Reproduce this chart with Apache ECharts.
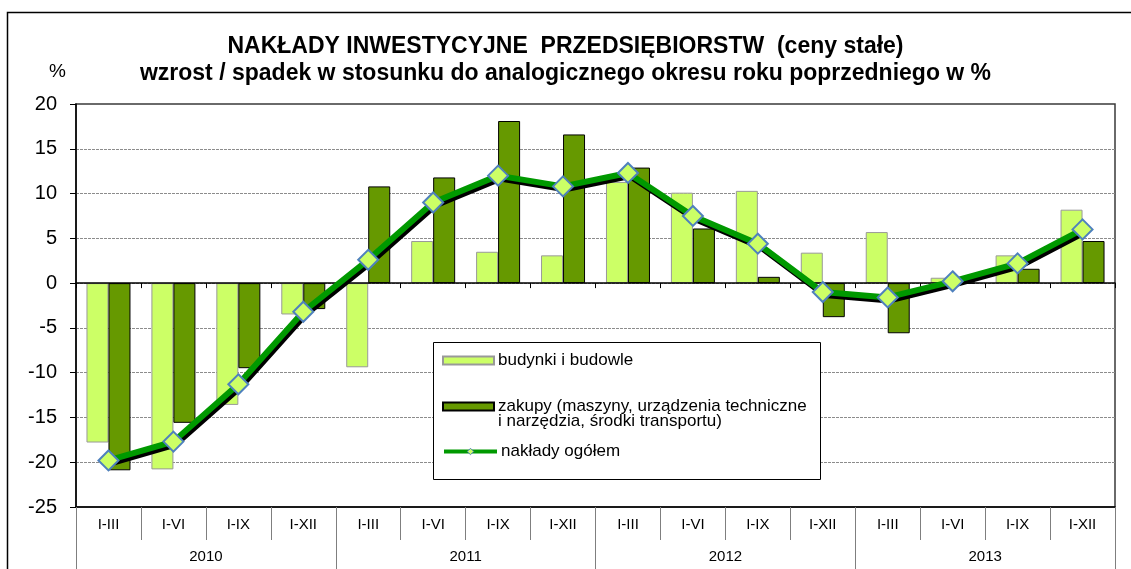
<!DOCTYPE html>
<html>
<head>
<meta charset="utf-8">
<script src="https://cdn.jsdelivr.net/npm/echarts@6/dist/echarts.min.js"></script>
<style>
  html, body { margin: 0; padding: 0; background: #fff; }
  #chart { width: 1131px; height: 569px; }
</style>
</head>
<body>
<div id="chart"></div>
<script>
// Periods (cumulative quarters) and years
const quarters = ['I-III', 'I-VI', 'I-IX', 'I-XII', 'I-III', 'I-VI', 'I-IX', 'I-XII',
                  'I-III', 'I-VI', 'I-IX', 'I-XII', 'I-III', 'I-VI', 'I-IX', 'I-XII'];
const years = ['2010', '2011', '2012', '2013'];

// Year-on-year change, %
const budynki = [-17.8, -20.8, -13.6, -3.5, -9.4, 4.7, 3.5, 3.1,
                 11.3, 10.1, 10.3, 3.4, 5.7, 0.6, 3.1, 8.2];
const zakupy = [-20.9, -15.6, -9.5, -2.9, 10.8, 11.8, 18.1, 16.6,
                12.9, 6.1, 0.7, -3.8, -5.6, 0.0, 1.6, 4.7];
const ogolem = [-19.8, -17.7, -11.3, -3.2, 2.6, 9.0, 12.0, 10.8,
                12.3, 7.5, 4.4, -1.0, -1.6, 0.2, 2.2, 6.0];

const yTicks = { min: -25, max: 20, step: 5 };

const NAME_B = 'budynki i budowle';
const NAME_Z = 'zakupy (maszyny, urządzenia techniczne';
const NAME_Z2 = 'i narzędzia, środki transportu)';
const NAME_O = 'nakłady ogółem';

const FONT = 'Liberation Sans, Arial, sans-serif';
const chart = echarts.init(document.getElementById('chart'), null, { renderer: 'canvas' });

const gridLineCount = (yTicks.max - yTicks.min) / yTicks.step + 1;
const splitColors = [];
for (let i = 0; i < gridLineCount; i++) {
  splitColors.push(i === 0 || i === gridLineCount - 1 ? 'rgba(0,0,0,0)' : '#8c8c8c');
}

const legendCommon = {
  orient: 'vertical',
  itemWidth: 51,
  itemHeight: 8,
  itemGap: 0,
  padding: 0,
  left: 442,
  z: 10,
  icon: 'rect',
  textStyle: { fontFamily: FONT, fontSize: 17, color: '#000', padding: [0, 0, 0, -1] },
  selectedMode: false
};

chart.setOption({
  animation: false,
  backgroundColor: '#fff',
  title: [
    {
      text: 'NAKŁADY INWESTYCYJNE  PRZEDSIĘBIORSTW  (ceny stałe)',
      left: 'center', top: 30,
      textStyle: { fontFamily: FONT, fontSize: 23, fontWeight: 'bold', color: '#000' }
    },
    {
      text: 'wzrost / spadek w stosunku do analogicznego okresu roku poprzedniego w %',
      left: 'center', top: 57,
      textStyle: { fontFamily: FONT, fontSize: 23, fontWeight: 'bold', color: '#000' }
    },
    {
      text: '%',
      left: 44, top: 57,
      textStyle: { fontFamily: FONT, fontSize: 19, fontWeight: 'normal', color: '#000' }
    }
  ],
  graphic: [
    {
      type: 'rect', z: 0, silent: true,
      shape: { x: 7.5, y: 12.5, width: 1130, height: 620 },
      style: { fill: 'none', stroke: '#000', lineWidth: 1.5 }
    },
    {
      type: 'rect', z: 5, silent: true,
      shape: { x: 433.5, y: 342.5, width: 387, height: 137 },
      style: { fill: '#fff', stroke: '#000', lineWidth: 1 }
    },
    {
      type: 'text', z: 10, silent: true,
      x: 498, y: 413,
      style: { text: NAME_Z2, fontFamily: FONT, fontSize: 17, fill: '#000' }
    }
  ],
  legend: [
    Object.assign({}, legendCommon, { top: 352, data: [NAME_B] }),
    Object.assign({}, legendCommon, { top: 398, data: [NAME_Z] }),
    Object.assign({}, legendCommon, {
      top: 443, itemWidth: 53, icon: null,
      data: [{ name: NAME_O, lineStyle: { width: 4, color: '#009900' },
               itemStyle: { borderWidth: 1 } }]
    })
  ],
  grid: {
    left: 76, right: 16, top: 104, bottom: 62,
    show: true, borderColor: '#3a3a3a', borderWidth: 1.5, backgroundColor: 'rgba(0,0,0,0)'
  },
  xAxis: [
    {
      // axis line crossing at zero
      type: 'category', data: quarters, position: 'bottom',
      axisLine: { onZero: true, lineStyle: { color: '#000', width: 1.5 } },
      axisTick: { show: true, length: 5, lineStyle: { color: '#000' } },
      axisLabel: { show: false },
      splitLine: { show: false }, z: 3
    },
    {
      // period labels under the plot
      type: 'category', data: quarters, position: 'bottom',
      axisLine: { onZero: false, lineStyle: { color: '#000', width: 1.5 } },
      axisTick: { show: true, length: 33, lineStyle: { color: '#7f7f7f' } },
      axisLabel: { fontFamily: FONT, fontSize: 15, color: '#000', margin: 10 },
      splitLine: { show: false }
    },
    {
      // year labels
      type: 'category', data: years, position: 'bottom', offset: 33,
      axisLine: { show: false, onZero: false },
      axisTick: { show: true, length: 40, lineStyle: { color: '#7f7f7f' } },
      axisLabel: { fontFamily: FONT, fontSize: 15, color: '#000', margin: 9 },
      splitLine: { show: false }
    }
  ],
  yAxis: {
    type: 'value', min: yTicks.min, max: yTicks.max, interval: yTicks.step,
    axisLine: { show: true, lineStyle: { color: '#000', width: 1.5 } },
    axisTick: { show: true, length: 6, lineStyle: { color: '#000' } },
    axisLabel: { fontFamily: FONT, fontSize: 20, color: '#000', margin: 19 },
    splitLine: { show: true, lineStyle: { color: splitColors, type: [3, 1], width: 1 } }
  },
  series: [
    {
      name: NAME_B, type: 'bar', data: budynki, barWidth: 22, barGap: '0%',
      xAxisIndex: 0, z: 2,
      itemStyle: { color: '#CCFF66', borderColor: '#999999', borderWidth: 1 }
    },
    {
      name: NAME_Z, type: 'bar', data: zakupy, barWidth: 22, barGap: '0%',
      xAxisIndex: 0, z: 2,
      itemStyle: { color: '#669900', borderColor: '#000', borderWidth: 1 }
    },
    {
      name: NAME_O, type: 'line', data: ogolem, xAxisIndex: 0, z: 4,
      symbol: 'diamond', symbolSize: 20,
      lineStyle: {
        color: '#009900', width: 6,
        shadowColor: '#000', shadowBlur: 0, shadowOffsetX: 2, shadowOffsetY: 3
      },
      itemStyle: { color: '#CCFF66', borderColor: '#4F81BD', borderWidth: 2 }
    }
  ]
});
</script>
</body>
</html>
